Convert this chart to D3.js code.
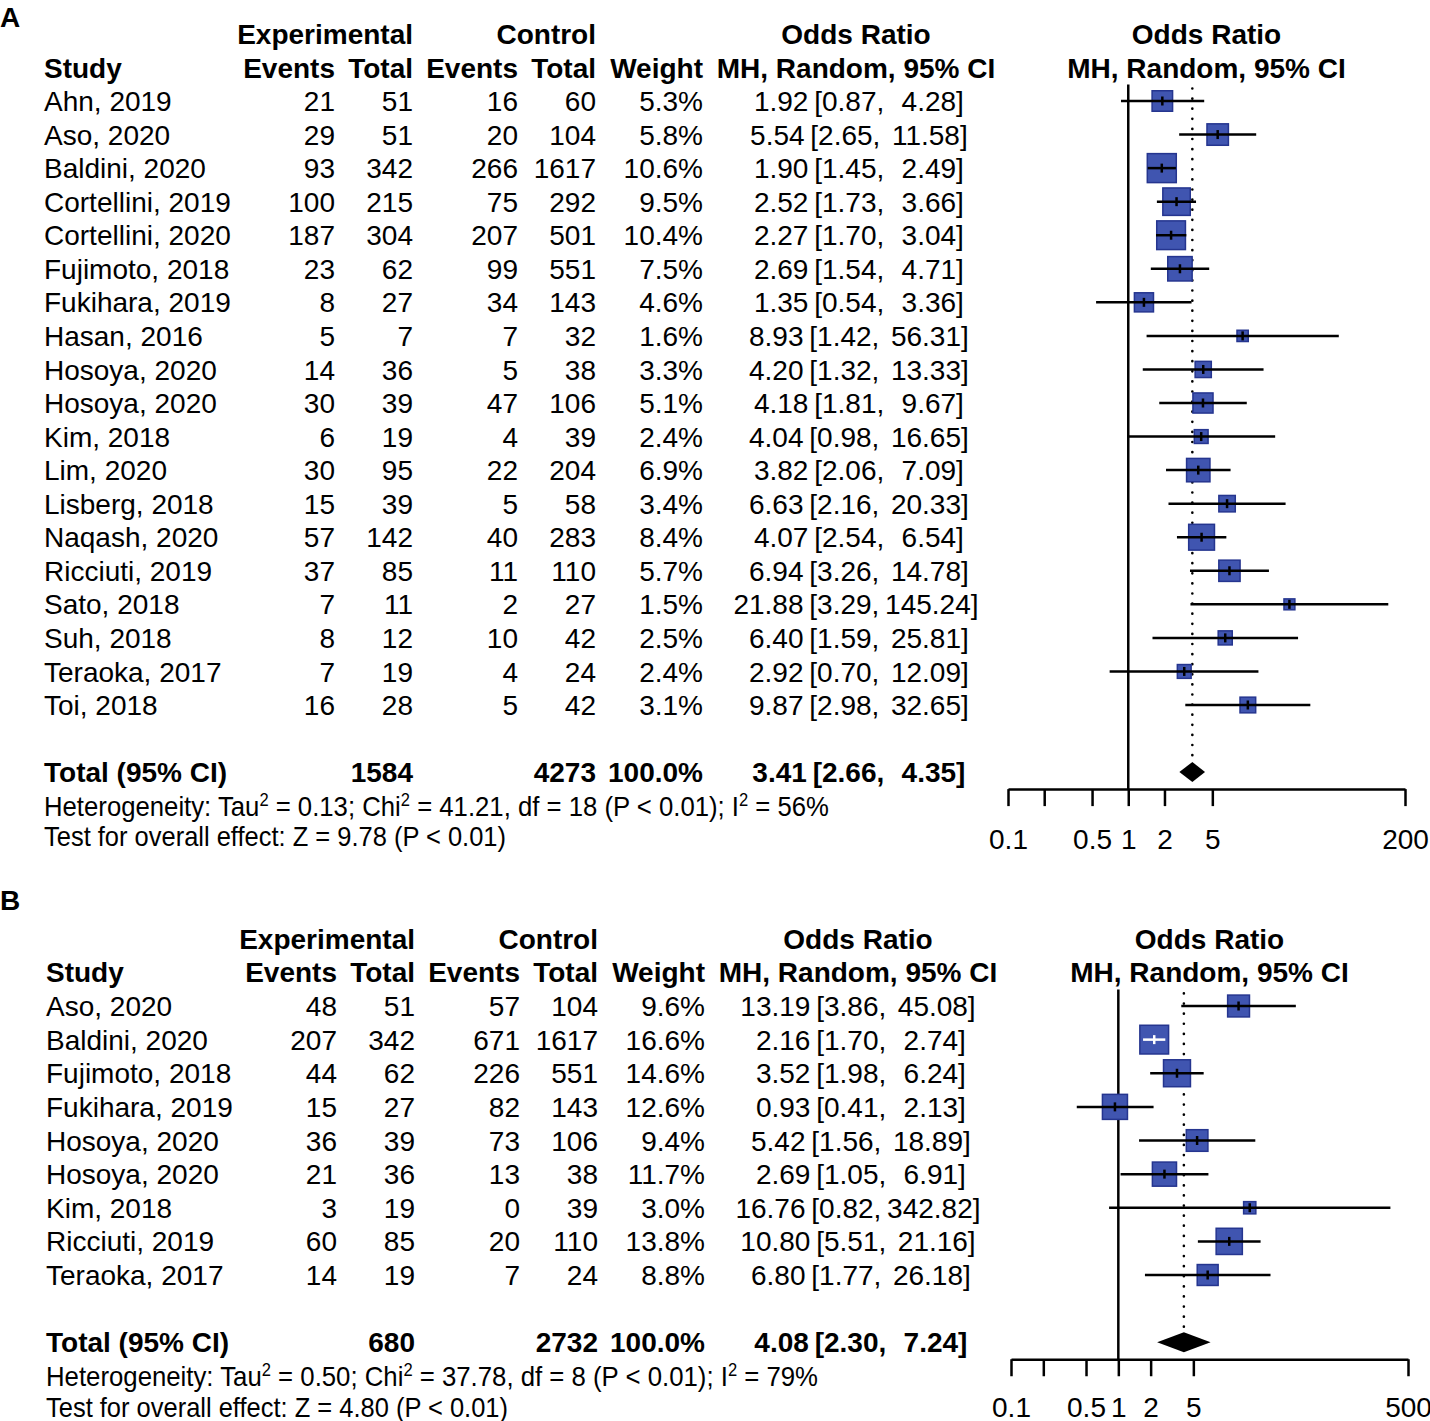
<!DOCTYPE html>
<html><head><meta charset="utf-8">
<script src="https://cdn.jsdelivr.net/npm/d3@7"></script>
<style>body{margin:0;background:#fff}</style>
</head><body>
<svg id="c" width="1430" height="1421" xmlns="http://www.w3.org/2000/svg"></svg>
<script>
// ---------------- DATA: panel A ----------------
const studiesA = ["Ahn, 2019","Aso, 2020","Baldini, 2020","Cortellini, 2019","Cortellini, 2020","Fujimoto, 2018","Fukihara, 2019","Hasan, 2016","Hosoya, 2020","Hosoya, 2020","Kim, 2018","Lim, 2020","Lisberg, 2018","Naqash, 2020","Ricciuti, 2019","Sato, 2018","Suh, 2018","Teraoka, 2017","Toi, 2018"];
const expEventsA = [21,29,93,100,187,23,8,5,14,30,6,30,15,57,37,7,8,7,16];
const expTotalA  = [51,51,342,215,304,62,27,7,36,39,19,95,39,142,85,11,12,19,28];
const ctrlEventsA = [16,20,266,75,207,99,34,7,5,47,4,22,5,40,11,2,10,4,5];
const ctrlTotalA  = [60,104,1617,292,501,551,143,32,38,106,39,204,58,283,110,27,42,24,42];
const weightA = [5.3,5.8,10.6,9.5,10.4,7.5,4.6,1.6,3.3,5.1,2.4,6.9,3.4,8.4,5.7,1.5,2.5,2.4,3.1];
const orA    = [1.92,5.54,1.90,2.52,2.27,2.69,1.35,8.93,4.20,4.18,4.04,3.82,6.63,4.07,6.94,21.88,6.40,2.92,9.87];
const lowerA = [0.87,2.65,1.45,1.73,1.70,1.54,0.54,1.42,1.32,1.81,0.98,2.06,2.16,2.54,3.26,3.29,1.59,0.70,2.98];
const upperA = [4.28,11.58,2.49,3.66,3.04,4.71,3.36,56.31,13.33,9.67,16.65,7.09,20.33,6.54,14.78,145.24,25.81,12.09,32.65];
const totalA = {exp:1584, ctrl:4273, weight:100.0, or:3.41, lo:2.66, hi:4.35};
const hetA = ["0.13","41.21","18","0.01","56%"];
const testA = ["9.78","0.01"];
const ticksA = [0.1,0.2,0.5,1,2,5,200];
const tickLabelsA = ["0.1","","0.5","1","2","5","200"];

// ---------------- DATA: panel B ----------------
const studiesB = ["Aso, 2020","Baldini, 2020","Fujimoto, 2018","Fukihara, 2019","Hosoya, 2020","Hosoya, 2020","Kim, 2018","Ricciuti, 2019","Teraoka, 2017"];
const expEventsB = [48,207,44,15,36,21,3,60,14];
const expTotalB  = [51,342,62,27,39,36,19,85,19];
const ctrlEventsB = [57,671,226,82,73,13,0,20,7];
const ctrlTotalB  = [104,1617,551,143,106,38,39,110,24];
const weightB = [9.6,16.6,14.6,12.6,9.4,11.7,3.0,13.8,8.8];
const orB    = [13.19,2.16,3.52,0.93,5.42,2.69,16.76,10.80,6.80];
const lowerB = [3.86,1.70,1.98,0.41,1.56,1.05,0.82,5.51,1.77];
const upperB = [45.08,2.74,6.24,2.13,18.89,6.91,342.82,21.16,26.18];
const totalB = {exp:680, ctrl:2732, weight:100.0, or:4.08, lo:2.30, hi:7.24};
const hetB = ["0.50","37.78","8","0.01","79%"];
const testB = ["4.80","0.01"];
const ticksB = [0.1,0.2,0.5,1,2,5,500];
const tickLabelsB = ["0.1","","0.5","1","2","5","500"];

// ---------------- DRAWING ----------------
const FONT = "'Liberation Sans', Arial, Helvetica, sans-serif";
const FS = 28;
const svg = d3.select("#c");
svg.append("rect").attr("width",1430).attr("height",1421).attr("fill","#fff");

function pad(s, n){ while (s.length < n) s = " " + s; return s; }

function drawPanel(cfg){
  const n = cfg.studies.length;
  const g = svg.append("g").attr("font-family", FONT).attr("font-size", FS).attr("fill","#000");
  const y = d3.scaleLinear().domain([0, n-1]).range([cfg.yFirst, cfg.yLast]);
  const x = d3.scaleLog().domain([cfg.ticks[0], cfg.ticks[cfg.ticks.length-1]]).range([cfg.plotL, cfg.plotR]);
  const dx = cfg.dx;

  const txt = (xx, yy, s, anchor, bold) => g.append("text")
      .attr("x", xx).attr("y", yy).attr("dy","0.36em")
      .attr("text-anchor", anchor || "start")
      .attr("font-weight", bold ? "bold" : null)
      .text(s);

  // panel label
  txt(0, cfg.labelY, cfg.label, "start", true);

  // headers
  txt(413+dx, y(-2), "Experimental", "end", true);
  txt(596+dx, y(-2), "Control", "end", true);
  txt(cfg.orX, y(-2), "Odds Ratio", "middle", true);
  txt((cfg.plotL+cfg.plotR)/2, y(-2), "Odds Ratio", "middle", true);
  txt(44+dx, y(-1), "Study", "start", true);
  txt(335+dx, y(-1), "Events", "end", true);
  txt(413+dx, y(-1), "Total", "end", true);
  txt(518+dx, y(-1), "Events", "end", true);
  txt(596+dx, y(-1), "Total", "end", true);
  txt(703+dx, y(-1), "Weight", "end", true);
  txt(cfg.orX, y(-1), "MH, Random, 95% CI", "middle", true);
  txt((cfg.plotL+cfg.plotR)/2, y(-1), "MH, Random, 95% CI", "middle", true);

  const orStr = (e,l,h) => pad(e.toFixed(2),5) + " [" + pad(l.toFixed(2),4) + ", " + pad(h.toFixed(2),6) + "]";
  const orText = (yy, s, bold) => g.append("text")
      .attr("x", cfg.orX).attr("y", yy).attr("dy","0.36em")
      .attr("text-anchor","middle").attr("xml:space","preserve")
      .style("white-space","pre").attr("word-spacing", -2)
      .attr("font-weight", bold ? "bold" : null).text(s);

  // study rows
  cfg.studies.forEach((s,i) => {
    const yy = y(i);
    txt(44+dx, yy, s);
    txt(335+dx, yy, cfg.ee[i], "end");
    txt(413+dx, yy, cfg.et[i], "end");
    txt(518+dx, yy, cfg.ce[i], "end");
    txt(596+dx, yy, cfg.ct[i], "end");
    txt(703+dx, yy, cfg.w[i].toFixed(1) + "%", "end");
    orText(yy, orStr(cfg.or[i], cfg.lo[i], cfg.hi[i]));
  });

  // total rows
  const yT = y(n+1);
  txt(44+dx, yT, "Total (95% CI)", "start", true);
  txt(413+dx, yT, cfg.total.exp, "end", true);
  txt(596+dx, yT, cfg.total.ctrl, "end", true);
  txt(703+dx, yT, cfg.total.weight.toFixed(1) + "%", "end", true);
  orText(yT, orStr(cfg.total.or, cfg.total.lo, cfg.total.hi), true);

  // heterogeneity
  const het = g.append("text").attr("x", 44+dx).attr("y", y(n+2)).attr("dy","0.36em")
      .attr("textLength", cfg.hetLen).attr("lengthAdjust","spacingAndGlyphs");
  const sup = (t) => { t.append("tspan").attr("dy",-10).attr("font-size",18).text("2"); };
  het.append("tspan").text("Heterogeneity: Tau");
  sup(het);
  het.append("tspan").attr("dy",10).text(" = " + cfg.het[0] + "; Chi");
  sup(het);
  het.append("tspan").attr("dy",10).text(" = " + cfg.het[1] + ", df = " + cfg.het[2] + " (P < " + cfg.het[3] + "); I");
  sup(het);
  het.append("tspan").attr("dy",10).text(" = " + cfg.het[4]);

  g.append("text").attr("x", 44+dx).attr("y", y(n+3) - 3).attr("dy","0.36em")
      .attr("textLength", cfg.testLen).attr("lengthAdjust","spacingAndGlyphs")
      .text("Test for overall effect: Z = " + cfg.test[0] + " (P < " + cfg.test[1] + ")");

  // ---- plot ----
  const axisY = yT + 17;
  const topY = y(-1) + 17;
  const p = svg.append("g");

  // reference line at 1
  p.append("line").attr("x1", x(1)).attr("x2", x(1)).attr("y1", topY).attr("y2", axisY)
    .attr("stroke","#000").attr("stroke-width",2.5);
  // summary dotted line
  p.append("line").attr("x1", x(cfg.total.or)).attr("x2", x(cfg.total.or)).attr("y1", topY+4).attr("y2", yT-10)
    .attr("stroke","#000").attr("stroke-width",2.6).attr("stroke-linecap","round")
    .attr("stroke-dasharray","0.1,10");

  cfg.studies.forEach((s,i) => {
    const yy = y(i);
    const cx = x(cfg.or[i]);
    const side = cfg.k * Math.sqrt(cfg.w[i]);
    const x0 = cx - side/2, x1 = cx + side/2;
    const l = x(cfg.lo[i]), h = x(cfg.hi[i]);
    const inside = (l > x0 + 1) && (h < x1 - 1);
    const col = inside ? "#fff" : "#000";
    p.append("rect").attr("x", x0).attr("y", yy - side/2).attr("width", side).attr("height", side)
      .attr("fill","#4055b0").attr("stroke","#25358f").attr("stroke-width",1.5);
    p.append("line").attr("x1", l).attr("x2", h).attr("y1", yy).attr("y2", yy)
      .attr("stroke", col).attr("stroke-width",2.5);
    p.append("line").attr("x1", cx).attr("x2", cx).attr("y1", yy-4.5).attr("y2", yy+4.5)
      .attr("stroke", col).attr("stroke-width",2.5);
  });

  // diamond
  const dl = x(cfg.total.lo), dm = x(cfg.total.or), dr = x(cfg.total.hi);
  p.append("path").attr("d", `M${dl},${yT}L${dm},${yT-10}L${dr},${yT}L${dm},${yT+10}Z`).attr("fill","#000");

  // axis
  const axis = d3.axisBottom(x).tickValues(cfg.ticks)
      .tickFormat((d,i) => cfg.tickLabels[i]).tickSize(17).tickSizeOuter(0).tickPadding(cfg.tickPad);
  const ag = p.append("g").attr("transform", `translate(0,${axisY})`).call(axis);
  ag.select(".domain").attr("stroke","#000").attr("stroke-width",2.5);
  ag.selectAll(".tick line").attr("stroke","#000").attr("stroke-width",2.5);
  ag.selectAll(".tick text").attr("font-family", FONT).attr("font-size", FS).attr("fill","#000");
}

drawPanel({label:"A", labelY:17, dx:0, yFirst:101, yLast:705, orX:856,
  studies:studiesA, ee:expEventsA, et:expTotalA, ce:ctrlEventsA, ct:ctrlTotalA, w:weightA,
  or:orA, lo:lowerA, hi:upperA, total:totalA, het:hetA, test:testA,
  ticks:ticksA, tickLabels:tickLabelsA, plotL:1008, plotR:1405, k:8.9, hetLen:785, testLen:462, tickPad:23});

drawPanel({label:"B", labelY:900, dx:2, yFirst:1006, yLast:1275, orX:858,
  studies:studiesB, ee:expEventsB, et:expTotalB, ce:ctrlEventsB, ct:ctrlTotalB, w:weightB,
  or:orB, lo:lowerB, hi:upperB, total:totalB, het:hetB, test:testB,
  ticks:ticksB, tickLabels:tickLabelsB, plotL:1011, plotR:1408, k:7.05, hetLen:772, testLen:462, tickPad:21});
</script>
</body></html>
